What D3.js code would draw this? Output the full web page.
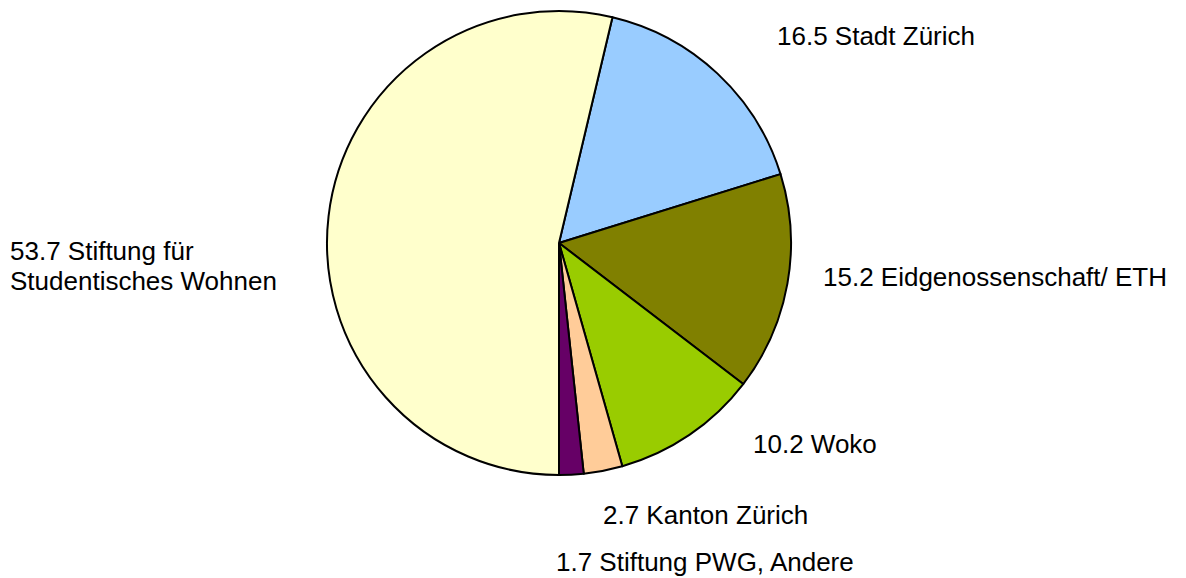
<!DOCTYPE html>
<html>
<head>
<meta charset="utf-8">
<script src="https://cdn.jsdelivr.net/npm/d3@7"></script>
<style>
  body { margin: 0; background: #fff; }
  text { font-family: "Liberation Sans", Arial, sans-serif; font-size: 26px; fill: #000; }
</style>
</head>
<body>
<svg id="chart" width="1186" height="578"></svg>
<script>
var labels = ["Stadt Zürich", "Eidgenossenschaft/ ETH", "Woko", "Kanton Zürich", "Stiftung PWG, Andere", "Stiftung für|Studentisches Wohnen"];
var values = [16.5, 15.2, 10.2, 2.7, 1.7, 53.7];
var colors = ["#99ccff", "#808000", "#99cc00", "#ffcc99", "#660066", "#ffffcc"];

// label anchor points (left edge, baseline) picked by eye
var labelPos = [[777, 45], [823, 286], [753, 453], [603, 524], [556, 571], [10, 260]];

var cx = 559, cy = 243, r = 232;

var svg = d3.select("#chart");
var g = svg.append("g").attr("transform", "translate(" + cx + "," + cy + ")");

var data = values.map(function(v, i) { return {value: v, label: labels[i], color: colors[i], pos: labelPos[i]}; });

// yellow slice starts at 6 o'clock, so the rest begins there minus its span
var startDeg = 180 - 360 * (100 - 53.7) / 100;
var pie = d3.pie().sort(null).value(function(d) { return d.value; })
    .startAngle(startDeg * Math.PI / 180)
    .endAngle(startDeg * Math.PI / 180 + 2 * Math.PI);

var arc = d3.arc().innerRadius(0).outerRadius(r);

g.selectAll("path")
    .data(pie(data))
    .enter().append("path")
    .attr("d", arc)
    .attr("fill", function(d) { return d.data.color; })
    .attr("stroke", "#000")
    .attr("stroke-width", 2)
    .attr("stroke-linejoin", "round");

data.forEach(function(d) {
    var t = svg.append("text").attr("x", d.pos[0]).attr("y", d.pos[1]);
    d.label.split("|").forEach(function(line, j) {
        t.append("tspan")
            .attr("x", d.pos[0])
            .attr("dy", j === 0 ? 0 : 30)
            .text(j === 0 ? d.value + " " + line : line);
    });
});
</script>
</body>
</html>
